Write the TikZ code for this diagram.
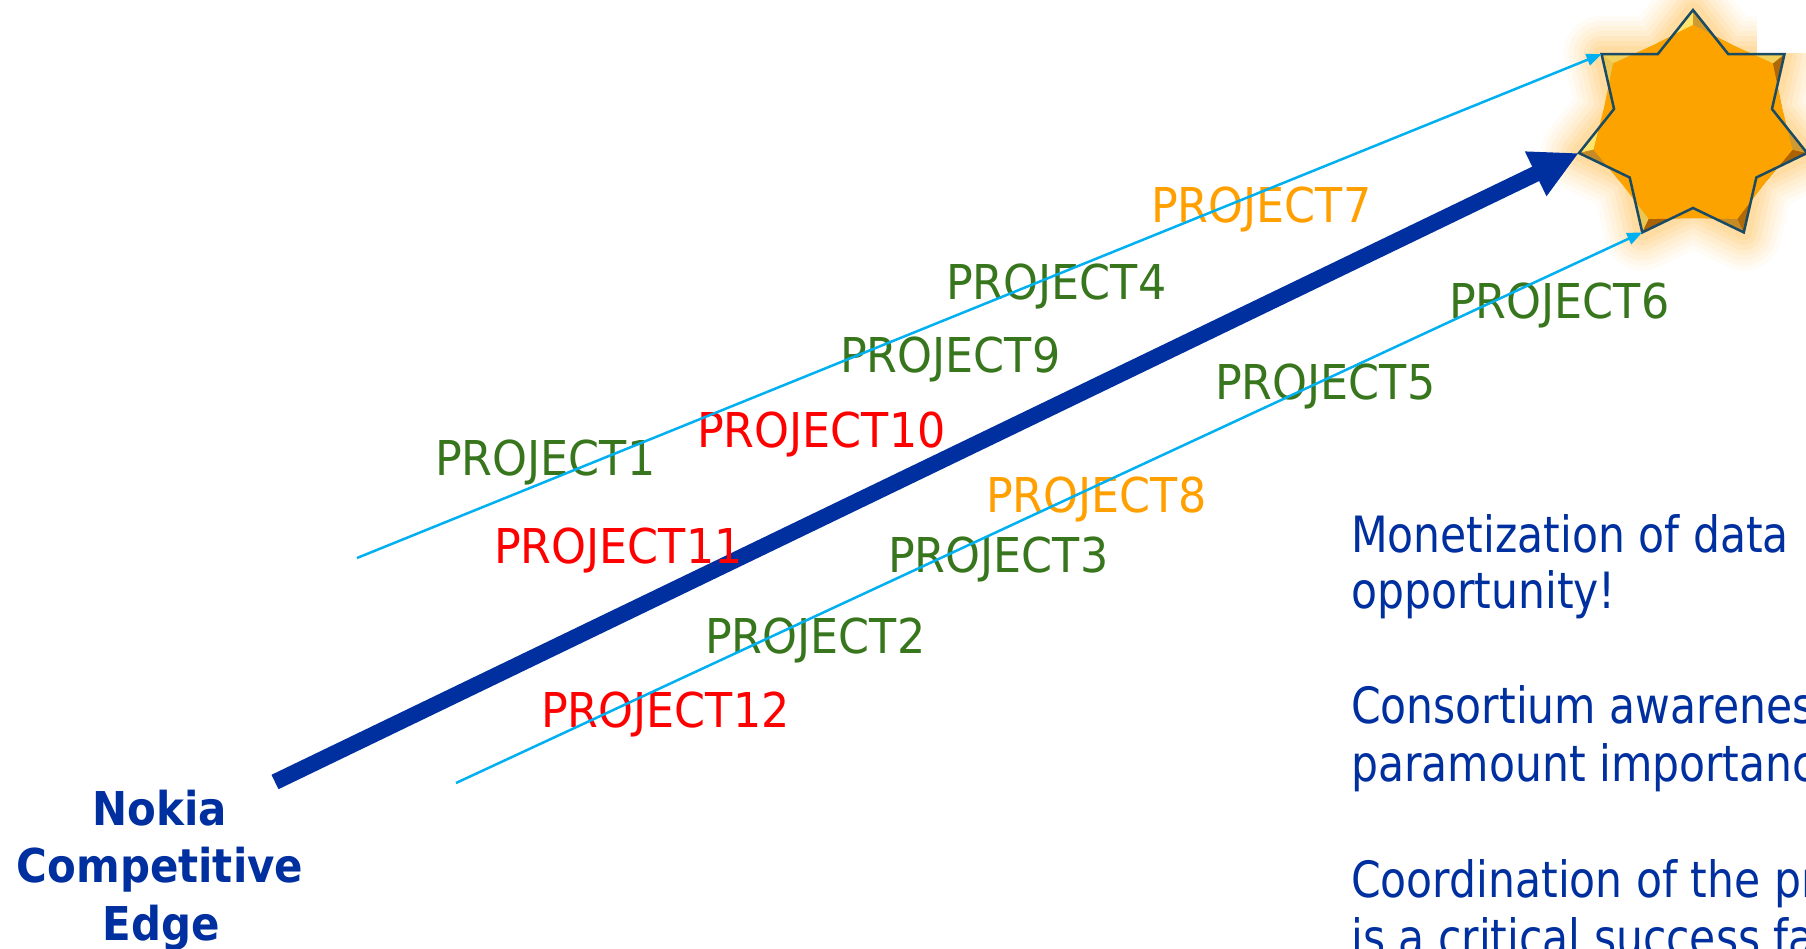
\documentclass[tikz,border=0pt]{standalone}
\usepackage{fontspec}
\usetikzlibrary{arrows.meta}
\newfontfamily\labfont[FakeStretch=0.925]{DejaVu Sans}
\newfontfamily\nokfont[FakeStretch=0.9]{DejaVu Sans}
\newfontfamily\txtfont[FakeStretch=0.85]{DejaVu Sans}
\definecolor{pgreen}{RGB}{56,118,29}
\definecolor{pred}{RGB}{255,0,0}
\definecolor{porange}{RGB}{255,160,0}
\definecolor{nblue}{RGB}{0,48,160}
\definecolor{lblue}{RGB}{0,176,240}
\definecolor{starfill}{RGB}{253,163,0}
\definecolor{bevlight}{RGB}{255,230,110}
\definecolor{bevdark}{RGB}{170,95,0}
\definecolor{starline}{RGB}{25,75,100}
\definecolor{glowc}{RGB}{255,196,90}
\newcommand\starpts[2]{(90:#1) -- (115.714:#2) -- (141.429:#1) -- (167.143:#2) -- (192.857:#1) -- (218.571:#2) -- (244.286:#1) -- (270:#2) -- (295.714:#1) -- (321.429:#2) -- (347.143:#1) -- (12.857:#2) -- (38.571:#1) -- (64.286:#2) -- cycle}
\tikzset{
  lab/.style={anchor=base west, inner sep=0pt, font=\labfont\fontsize{48}{57}\selectfont},
  rtext/.style={anchor=base west, inner sep=0pt, text=nblue, font=\txtfont\fontsize{50}{56}\selectfont},
  nok/.style={anchor=base, inner sep=0pt, text=nblue, font=\nokfont\bfseries\fontsize{46.6}{57}\selectfont},
  bigarrow/.style={draw=nblue, line width=16pt, -{Triangle[length=48pt,width=46pt]}},
  thinarrow/.style={draw=lblue, line width=2.5pt, -{Triangle[length=15pt,width=12pt]}}
}
\begin{document}
\begin{tikzpicture}[x=1pt,y=-1pt]
\useasboundingbox (0,0) rectangle (1806,949);
\clip (0,0) rectangle (1806,949);
\fill[white] (0,0) rectangle (1806,949);

% star vertices used as arrow ends
\coordinate (sUL) at (1601.5,54.1);
\coordinate (sL) at (1578.9,153.0);
\coordinate (sLL) at (1642.2,232.4);
\coordinate (u0) at (357,558);
\coordinate (a0) at (275,782);
\coordinate (l0) at (456,783);

% glow
\begin{scope}[shift={(1693,127)}]
  \foreach \w/\o in {76/0.06,66/0.07,56/0.08,46/0.1,36/0.12,26/0.14,16/0.18}
    \draw[glowc, line width=\w pt, opacity=\o, line join=round] \starpts{117pt}{81pt};
\end{scope}
\fill[white] (1757,0) rectangle (1806,53);

% star body with bevel
\begin{scope}[shift={(1693,127)}]
  \fill[starfill] \starpts{117pt}{81pt};
  \foreach \k in {0,...,13}{
    \pgfmathsetmacro\aA{90+\k*25.7142857}
    \pgfmathsetmacro\aB{\aA+25.7142857}
    \pgfmathsetmacro\rA{ifthenelse(mod(\k,2)==0,117,81)}
    \pgfmathsetmacro\rB{ifthenelse(mod(\k,2)==0,81,117)}
    \pgfmathsetmacro\qA{ifthenelse(mod(\k,2)==0,102,91)}
    \pgfmathsetmacro\qB{ifthenelse(mod(\k,2)==0,91,102)}
    \pgfmathsetmacro\nx{\rB*cos(\aB)-\rA*cos(\aA)}
    \pgfmathsetmacro\ny{\rB*sin(\aB)-\rA*sin(\aA)}
    \pgfmathsetmacro\nang{atan2(\ny,\nx)-90}
    \pgfmathtruncatemacro\p{50+50*cos(\nang-135)}
    \fill[bevlight!\p!bevdark] (\aA:\rA pt) -- (\aB:\rB pt) -- (\aB:\qB pt) -- (\aA:\qA pt) -- cycle;
  }
  \fill[starfill] \starpts{102pt}{91pt};
  \draw[starline, line width=2.5pt, line join=miter] \starpts{117pt}{81pt};
\end{scope}

% thick arrow
\draw[bigarrow] (a0) -- (sL);

% labels
\node[lab, text=porange] (p7) at (1151,223) {PROJECT7};
\node[lab, text=pgreen] (p4) at (946,299.5) {PROJECT4};
\node[lab, text=pgreen] (p9) at (840,372) {PROJECT9};
\node[lab, text=pred] (p10) at (697,447) {PROJECT10};
\node[lab, text=pgreen] (p1) at (435,475) {PROJECT1};
\node[lab, text=pred] (p11) at (494,563) {PROJECT11};
\node[lab, text=pgreen] (p6) at (1449,319) {PROJECT6};
\node[lab, text=pgreen] (p5) at (1215,399) {PROJECT5};
\node[lab, text=porange] (p8) at (986,512) {PROJECT8};
\node[lab, text=pgreen] (p3) at (888,572) {PROJECT3};
\node[lab, text=pgreen] (p2) at (705,653) {PROJECT2};
\node[lab, text=pred] (p12) at (541,727) {PROJECT12};

% thin arrows
\draw[thinarrow] (u0) -- (sUL);
\draw[thinarrow] (l0) -- (sLL);

% Nokia label
\node[nok] (n1) at (160,825) {Nokia};
\node[nok] (n2) at (160,882) {Competitive};
\node[nok] (n3) at (161,940) {Edge};

% right text
\node[rtext] (t1) at (1351,552) {Monetization of data is an};
\node[rtext] (t2) at (1351,608) {opportunity!};
\node[rtext] (t3) at (1351,723) {Consortium awareness is of};
\node[rtext] (t4) at (1351,781) {paramount importance};
\node[rtext] (t5) at (1351,897) {Coordination of the projects};
\node[rtext] (t6) at (1351,955) {is a critical success factor};
\end{tikzpicture}
\end{document}
